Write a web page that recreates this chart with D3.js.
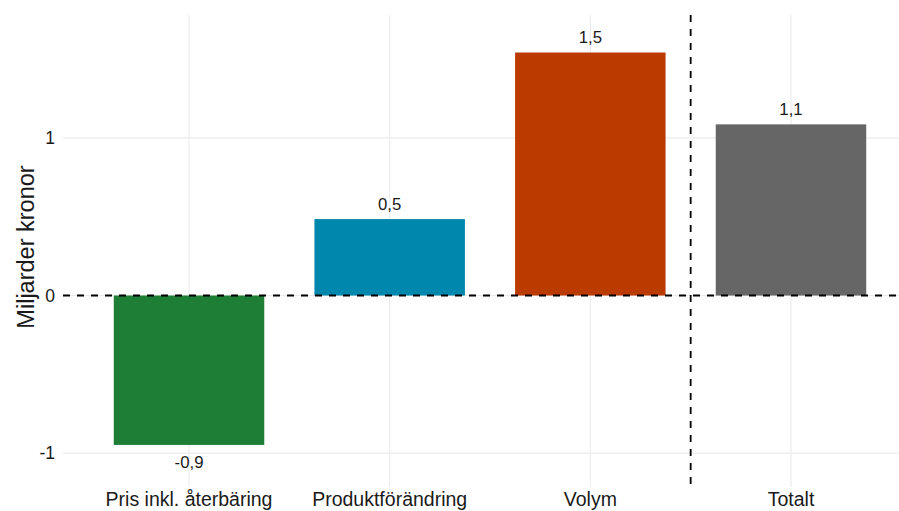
<!DOCTYPE html>
<html>
<head>
<meta charset="utf-8">
<script src="https://cdn.jsdelivr.net/npm/d3@7"></script>
<style>
  html, body { margin: 0; padding: 0; background: #fff; }
  svg { display: block; }
  text { font-family: "Liberation Sans", Arial, Helvetica, sans-serif; fill: #1a1a1a; }
</style>
</head>
<body>
<svg id="chart" width="899" height="511"></svg>
<script>
// Bidrag till förändringen, miljarder kronor
const categories = ["Pris inkl. återbäring", "Produktförändring", "Volym", "Totalt"];
const values = [-0.948, 0.485, 1.542, 1.086];
const barColors = ["#1e7e35", "#0087ad", "#bb3a00", "#666666"];
const yTicks = [-1, 0, 1];
const yTitle = "Miljarder kronor";

const W = 899, H = 511;
const panel = { left: 63, right: 917, top: 15, bottom: 487 };

const svg = d3.select("#chart");

const x = d3.scaleBand()
  .domain(categories)
  .range([panel.left, panel.right])
  .paddingInner(0.25)
  .paddingOuter(0.253);

const y = d3.scaleLinear()
  .domain([-1.215, 1.78])
  .range([panel.bottom, panel.top]);

const fmt = v => d3.format(".1f")(v).replace(".", ",").replace("−", "-");

// grid
const grid = svg.append("g").attr("stroke", "#ebebeb").attr("stroke-width", 1.1);
grid.selectAll("line.h").data(yTicks).join("line")
  .attr("class", "h")
  .attr("x1", panel.left).attr("x2", W)
  .attr("y1", d => y(d)).attr("y2", d => y(d));
grid.selectAll("line.v").data(categories).join("line")
  .attr("class", "v")
  .attr("x1", d => x(d) + x.bandwidth() / 2).attr("x2", d => x(d) + x.bandwidth() / 2)
  .attr("y1", panel.top).attr("y2", panel.bottom);

// y axis tick labels
const yAxis = d3.axisLeft(y).tickValues(yTicks).tickSize(0).tickPadding(0)
  .tickFormat(d => d3.format("d")(d).replace("−", "-"));
svg.append("g")
  .attr("transform", `translate(${panel.left - 8},0)`)
  .call(yAxis)
  .call(g => g.select(".domain").remove())
  .call(g => g.selectAll("text")
    .attr("font-size", 17.5)
    .attr("font-family", "Liberation Sans, Arial, sans-serif")
    .attr("fill", "#1a1a1a"));

// x axis labels
const xAxis = d3.axisBottom(x).tickSize(0).tickPadding(0);
svg.append("g")
  .attr("transform", `translate(0,${panel.bottom})`)
  .call(xAxis)
  .call(g => g.select(".domain").remove())
  .call(g => g.selectAll("text")
    .attr("y", 18.5)
    .attr("dy", 0)
    .attr("font-size", 19.5)
    .attr("font-family", "Liberation Sans, Arial, sans-serif")
    .attr("fill", "#1a1a1a"));

// y title
svg.append("text")
  .attr("transform", `translate(34,247) rotate(-90)`)
  .attr("text-anchor", "middle")
  .attr("font-size", 23.5)
  .text(yTitle);

// bars
svg.append("g").selectAll("rect").data(categories).join("rect")
  .attr("x", d => x(d))
  .attr("width", x.bandwidth())
  .attr("y", (d, i) => y(Math.max(0, values[i])))
  .attr("height", (d, i) => Math.abs(y(values[i]) - y(0)))
  .attr("fill", (d, i) => barColors[i]);

// value labels
svg.append("g").selectAll("text").data(categories).join("text")
  .attr("x", d => x(d) + x.bandwidth() / 2)
  .attr("y", (d, i) => values[i] >= 0 ? y(values[i]) - 9.5 : y(values[i]) + 23)
  .attr("text-anchor", "middle")
  .attr("font-size", 16.8)
  .text((d, i) => fmt(values[i]));

// reference lines
const dash = "7,7";
svg.append("line")
  .attr("x1", panel.left).attr("x2", W)
  .attr("y1", y(0)).attr("y2", y(0))
  .attr("stroke", "#000").attr("stroke-width", 1.8)
  .attr("stroke-dasharray", dash);

const sepX = (x("Volym") + x("Totalt")) / 2 + x.bandwidth() / 2;
svg.append("line")
  .attr("x1", sepX).attr("x2", sepX)
  .attr("y1", panel.top).attr("y2", panel.bottom)
  .attr("stroke", "#000").attr("stroke-width", 1.8)
  .attr("stroke-dasharray", dash);
</script>
</body>
</html>
